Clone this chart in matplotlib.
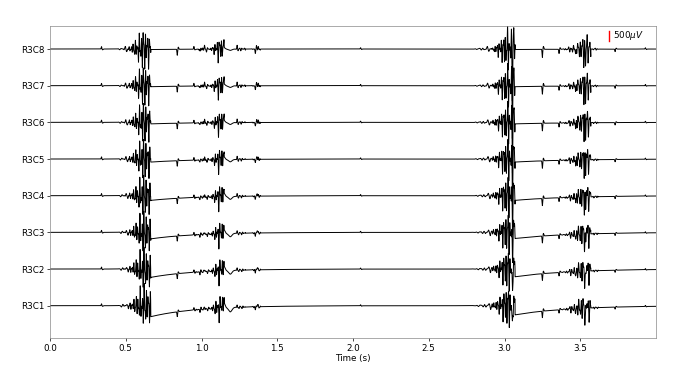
import numpy as np
import matplotlib.pyplot as plt

# ---- values (uV, seconds) ----
channels = ['R3C1', 'R3C2', 'R3C3', 'R3C4', 'R3C5', 'R3C6', 'R3C7', 'R3C8']
spacing_uv = 1800
xticks = [0.0, 0.5, 1.0, 1.5, 2.0, 2.5, 3.0, 3.5]

# oscillatory bursts: start, peak, end, amplitude, frequency
burst_start = [0.43, 0.49, 0.92, 1.04, 1.21, 1.32, 2.76, 2.89, 3.36, 3.41, 3.57]
burst_peak  = [0.50, 0.615, 1.03, 1.115, 1.25, 1.36, 2.92, 3.02, 3.44, 3.525, 3.59]
burst_end   = [0.52, 0.665, 1.05, 1.15, 1.29, 1.39, 2.93, 3.07, 3.46, 3.57, 3.62]
burst_amp   = [150, 1100, 120, 650, 80, 100, 170, 1100, 150, 800, 60]
burst_freq  = [40, 74, 60, 70, 60, 60, 38, 74, 55, 66, 60]

# sharp transients: time, amplitude
spike_t   = [0.34, 0.84, 0.95, 0.99, 1.02, 1.235, 1.355, 1.375, 2.05, 3.052, 3.25, 3.36, 3.47, 3.535, 3.73, 3.93]
spike_amp = [110, -280, 140, -130, 150, 160, -170, 150, 60, -1850, -380, -200, -280, -800, -120, 60]

# slow baseline dips after the big bursts, per channel (C1..C8)
dip_t   = [0.665, 3.07]
dip_tau = [0.30, 0.35]
dip_amp = [[540, 410, 320, 230, 150, 75, 50, 25],
           [450, 380, 300, 230, 150, 75, 50, 25]]

# hump after second burst, per channel (C1..C8)
hump_amp = [300, 260, 230, 200, 160, 130, 110, 90]

fs = 2000
t = np.arange(0, 4.0, 1 / fs)


def envelope(ts, tp, te):
    env = np.zeros_like(t)
    rise = (t >= ts) & (t < tp)
    env[rise] = ((t[rise] - ts) / (tp - ts)) ** 1.8
    hold = (t >= tp) & (t <= te)
    env[hold] = 1 - 0.35 * (t[hold] - tp) / (te - tp)
    return env


def channel_trace(c):
    y = np.zeros_like(t)
    for k in range(len(burst_start)):
        f = burst_freq[k]
        p = 0.35 * c + 1.3 * k
        s = (np.sin(2 * np.pi * f * t + p)
             + 0.7 * np.sin(2 * np.pi * 1.63 * f * t + 2.1 * p)
             + 0.45 * np.sin(2 * np.pi * 0.57 * f * t + 0.5 * p)) / 1.8
        s = np.sign(s) * np.abs(s) ** 1.1
        y += burst_amp[k] * envelope(burst_start[k], burst_peak[k], burst_end[k]) * s
    for tc, a in zip(spike_t, spike_amp):
        g = 0.85 + 0.03 * c
        y += g * a * np.exp(-((t - tc) / 0.0028) ** 2)
        y -= 0.35 * g * a * np.exp(-((t - tc - 0.007) / 0.004) ** 2)
    for j in range(len(dip_t)):
        after = t >= dip_t[j]
        y[after] -= dip_amp[j][c] * np.exp(-(t[after] - dip_t[j]) / dip_tau[j])
    y += hump_amp[c] * np.exp(-((t - 1.145) / 0.012) ** 2)
    y -= 0.7 * hump_amp[c] * np.exp(-((t - 1.19) / 0.015) ** 2)
    return y


fig = plt.figure(figsize=(6.92, 3.83), dpi=100)
ax = fig.add_axes([50 / 692, 45 / 383, 606 / 692, 312 / 383])

offsets = [i * spacing_uv for i in range(len(channels))]
for c, off in enumerate(offsets):
    ax.plot(t, channel_trace(c) + off, color='black', linewidth=0.7)

# scale bar
ax.plot([3.69, 3.69], [offsets[-1] + 390, offsets[-1] + 890], color='red', linewidth=1.0)
ax.text(3.715, offsets[-1] + 640, r'500$\mu V$', fontsize=6.3, va='center', ha='left')

ax.set_xlim(0, 4.0)
ax.set_ylim(-1586, offsets[-1] + 1129)
ax.set_xticks(xticks)
ax.set_xticklabels([f'{v:.1f}' for v in xticks])
ax.set_yticks(offsets)
ax.set_yticklabels(channels)
ax.tick_params(labelsize=6.3, length=2.2, width=0.5, pad=2)
ax.set_xlabel('Time (s)', fontsize=6.3, labelpad=1)
for sp in ax.spines.values():
    sp.set_linewidth(0.5)
    sp.set_color('#888888')

plt.savefig('out.png', dpi=100)
plt.close()
